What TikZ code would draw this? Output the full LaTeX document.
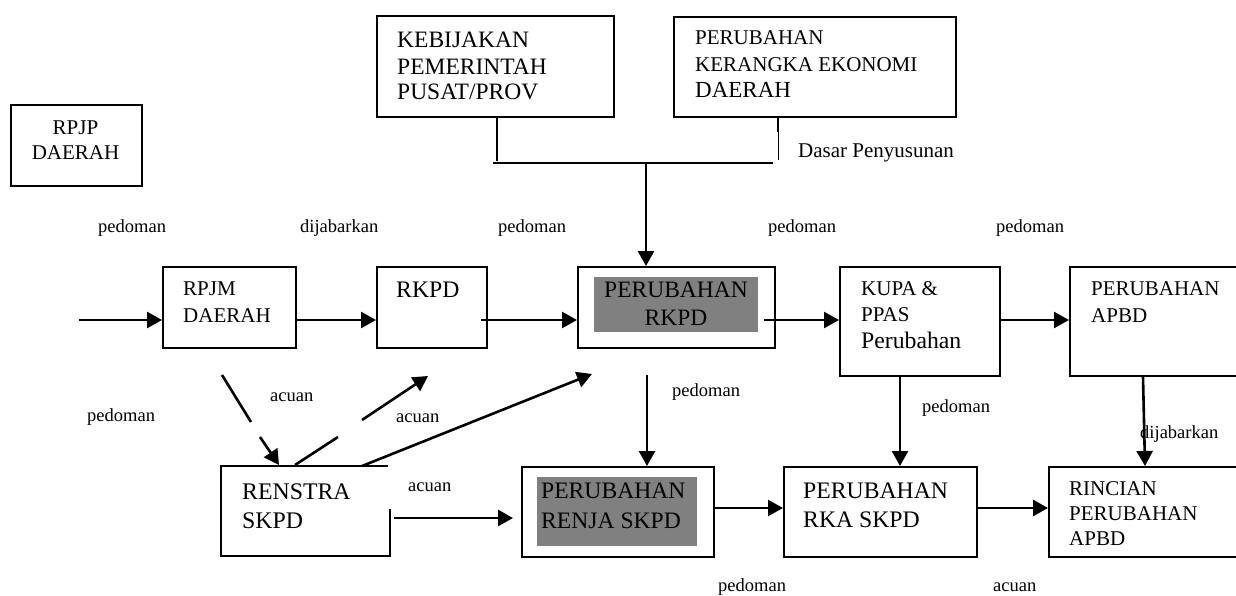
\documentclass[tikz,border=0pt]{standalone}
\usepackage{fontspec}
\setmainfont{Liberation Serif}
\usetikzlibrary{arrows.meta,calc}
\newcommand\fsz[1]{\fontsize{#1}{#1}\selectfont}
\begin{document}
\begin{tikzpicture}[x=1pt,y=-1pt,
  box/.style={draw=black,line width=1.9pt,rectangle,inner sep=0pt,anchor=north west},
  greybox/.style={fill=black!50,draw=none,rectangle,inner sep=0pt,anchor=north west},
  txt/.style={anchor=base west,inner sep=0pt},
  ctxt/.style={anchor=base,inner sep=0pt},
  arr/.style={line width=2.6pt,-{Triangle[length=15pt,width=16pt]}},
  ln/.style={line width=2.6pt},
  lbl/.style={anchor=base west,inner sep=0pt,font=\fsz{18.5}}]
\useasboundingbox (0,0) rectangle (1236,596);
\clip (0,0) rectangle (1236,596);

% ---- boxes ----
\node[box,minimum width=131pt,minimum height=81pt] (rpjp) at (10,104) {};
\node[box,minimum width=237pt,minimum height=101pt] (keb) at (376,15) {};
\node[box,minimum width=282pt,minimum height=100pt] (prk) at (673,16) {};
\node[box,minimum width=133pt,minimum height=81pt] (rpjm) at (162,266) {};
\node[box,minimum width=110pt,minimum height=81pt] (rkpd) at (376,266) {};
\node[box,minimum width=197pt,minimum height=81pt] (prkpd) at (577,266) {};
\node[greybox,minimum width=164pt,minimum height=55pt] (prkpdg) at (594,277) {};
\node[box,minimum width=160pt,minimum height=109pt] (kupa) at (839,266) {};
\node[box,minimum width=200pt,minimum height=109pt] (papbd) at (1069,266) {};
\node[inner sep=0pt,minimum width=169pt,minimum height=90pt,anchor=north west] (renstra) at (221,466) {};
\draw[line width=1.9pt] ($(renstra.north east)+(-2,0)$) -- (renstra.north west) -- (renstra.south west) -- (renstra.south east) -- ($(renstra.north east)+(0,43)$);
\node[box,minimum width=192pt,minimum height=90pt] (renja) at (521,466) {};
\node[greybox,minimum width=160pt,minimum height=69pt] (renjag) at (537,477) {};
\node[box,minimum width=193pt,minimum height=90pt] (rka) at (783,466) {};
\node[box,minimum width=220pt,minimum height=90pt] (rincian) at (1048,466) {};

% ---- box texts ----
\node[ctxt,font=\fsz{21}] (t1a) at (75.5,135) {RPJP};
\node[ctxt,font=\fsz{21}] (t1b) at (75.5,160) {DAERAH};
\node[txt,font=\fsz{23.5}] (t2a) at (397,48) {KEBIJAKAN};
\node[txt,font=\fsz{23.5}] (t2b) at (397,75) {PEMERINTAH};
\node[txt,font=\fsz{23.5}] (t2c) at (397,100) {PUSAT/PROV};
\node[txt,font=\fsz{21}] (t3a) at (695,45) {PERUBAHAN};
\node[txt,font=\fsz{21}] (t3b) at (695,72) {KERANGKA EKONOMI};
\node[txt,font=\fsz{23}] (t3c) at (695,98) {DAERAH};
\node[txt,font=\fsz{21}] (t4a) at (183,295) {RPJM};
\node[txt,font=\fsz{21}] (t4b) at (183,322) {DAERAH};
\node[txt,font=\fsz{23.7}] (t5a) at (396,297) {RKPD};
\node[ctxt,font=\fsz{23.5}] (t6a) at (676,297) {PERUBAHAN};
\node[ctxt,font=\fsz{23.5}] (t6b) at (676,325) {RKPD};
\node[txt,font=\fsz{21}] (t7a) at (861,295) {KUPA \&};
\node[txt,font=\fsz{21}] (t7b) at (861,321) {PPAS};
\node[txt,font=\fsz{23.7}] (t7c) at (861,348) {Perubahan};
\node[txt,font=\fsz{21}] (t8a) at (1091,295) {PERUBAHAN};
\node[txt,font=\fsz{21}] (t8b) at (1091,322) {APBD};
\node[txt,font=\fsz{23.8}] (t9a) at (242,499) {RENSTRA};
\node[txt,font=\fsz{23.8}] (t9b) at (242,528) {SKPD};
\node[txt,font=\fsz{23.6}] (t10a) at (541,498) {PERUBAHAN};
\node[txt,font=\fsz{23.6}] (t10b) at (541,528) {RENJA SKPD};
\node[txt,font=\fsz{23.7}] (t11a) at (803,498) {PERUBAHAN};
\node[txt,font=\fsz{23.7}] (t11b) at (803,527) {RKA SKPD};
\node[txt,font=\fsz{21}] (t12a) at (1069,495) {RINCIAN};
\node[txt,font=\fsz{21}] (t12b) at (1069,520) {PERUBAHAN};
\node[txt,font=\fsz{21}] (t12c) at (1069,545) {APBD};

% ---- labels ----
\node[lbl] (l1) at (98,232) {pedoman};
\node[lbl] (l2) at (300,232) {dijabarkan};
\node[lbl] (l3) at (498,232) {pedoman};
\node[lbl] (l4) at (768,232) {pedoman};
\node[lbl] (l5) at (996,232) {pedoman};
\node[lbl] (l6) at (87,421) {pedoman};
\node[lbl] (l7) at (270,401) {acuan};
\node[lbl] (l8) at (396,422) {acuan};
\node[lbl] (l9) at (408,491) {acuan};
\node[lbl] (l10) at (672,396) {pedoman};
\node[lbl] (l11) at (922,412) {pedoman};
\node[lbl] (l12) at (1140,438) {dijabarkan};
\node[lbl] (l13) at (993,591) {acuan};
\node[lbl] (l14) at (718,591) {pedoman};
\node[anchor=base west,inner sep=0pt,font=\fsz{21}] (l15) at (798,158) {Dasar Penyusunan};

% ---- top joint ----
\coordinate (kebdown) at (keb.south -| 497,0);
\coordinate (j1) at (497,161);
\coordinate (prkdown) at (prk.south -| 778,0);
\coordinate (j2a) at (778,132);
\coordinate (j2) at (778,160);
\coordinate (hl) at (493,163);
\coordinate (hr) at (773,163);
\coordinate (jc) at (646,162);
\draw[line width=2pt] (kebdown) -- (j1);
\draw[line width=2pt] (prkdown) -- (j2a);
\draw[line width=0.6pt] (j2a) -- (j2);
\draw[line width=2pt] (hl) -- (hr);
\draw[arr] (jc) -- (prkpd.north -| jc);

% ---- main row ----
\coordinate (start) at (79,320);
\draw[arr] (start) -- (rpjm.west |- start);
\draw[arr] (rpjm.east |- start) -- (rkpd.west |- start);
\draw[arr] ($(rkpd.east |- start)+(-7,0)$) -- (prkpd.west |- start);
\draw[arr] ($(prkpd.east |- start)+(-12,0)$) -- (kupa.west |- start);
\draw[arr] (kupa.east |- start) -- (papbd.west |- start);

% ---- verticals ----
\coordinate (v1) at (647,375);
\draw[arr] (v1) -- (renja.north -| v1);
\coordinate (v2) at (900,375);
\draw[arr] (kupa.south -| v2) -- (rka.north -| v2);
\coordinate (v3a) at (1143,375);
\coordinate (v3b) at (1145,466);
\draw[arr] (papbd.south -| v3a) -- (rincian.north -| v3b);

% ---- bottom row ----
\coordinate (b1) at (394,518);
\coordinate (b1e) at (513,518);
\draw[arr] (b1) -- (b1e);
\coordinate (b2) at (0,508);
\draw[arr] (renja.east |- b2) -- (rka.west |- b2);
\draw[arr] (rka.east |- b2) -- (rincian.west |- b2);

% ---- diagonals ----
\coordinate (d1a) at (222,375);
\coordinate (d1b) at (251,422);
\coordinate (d1c) at (260,437);
\coordinate (d1d) at (279,465);
\draw[ln] (d1a) -- (d1b);
\draw[arr] (d1c) -- (d1d);
\coordinate (d2a) at (295,465);
\coordinate (d2b) at (338,437);
\coordinate (d2c) at (362,420);
\coordinate (d2d) at (428,376);
\draw[ln] (d2a) -- (d2b);
\draw[arr] (d2c) -- (d2d);
\coordinate (d3a) at (362,466);
\coordinate (d3b) at (592,374);
\draw[arr] (d3a) -- (d3b);
\end{tikzpicture}
\end{document}
